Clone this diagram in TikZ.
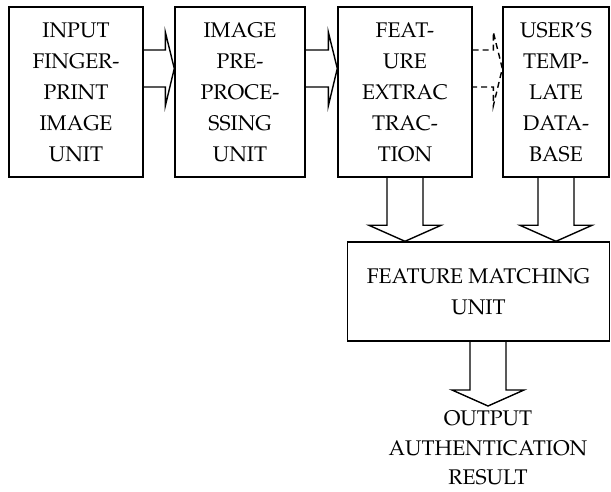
\documentclass[tikz,border=0pt]{standalone}
\usepackage[T1]{fontenc}
\usepackage{mathpazo}
\usetikzlibrary{calc}

\tikzset{
  unit/.style={draw, line width=1.4pt, inner sep=0pt, align=center,
    minimum height=170pt, font=\fontsize{21.2}{31}\selectfont},
  hollow/.style={draw, line width=1.4pt, line join=miter},
  plain/.style={inner sep=0pt, align=center, font=\fontsize{21.2}{29.5}\selectfont}
}

% hollow arrow to the right, from box #2 to box #3
\newcommand\rarrow[3][]{%
  \draw[hollow,#1] ([yshift=42pt]#2.east) -- ([xshift=-9pt,yshift=42pt]#3.west)
    -- ([xshift=-9pt,yshift=60pt]#3.west) -- ([yshift=23.5pt]#3.west)
    -- ([xshift=-9pt,yshift=-14pt]#3.west) -- ([xshift=-9pt,yshift=5pt]#3.west)
    -- ([yshift=5pt]#2.east);}

% hollow arrow downwards, from point #1 to tip #2
\newcommand\darrow[2]{%
  \draw[hollow] ($(#1)+(-18,0)$) -- ($(#2)+(-18,-16)$) -- ($(#2)+(-36,-16)$)
    -- (#2) -- ($(#2)+(36,-16)$) -- ($(#2)+(18,-16)$) -- ($(#1)+(18,0)$);}

\begin{document}
\begin{tikzpicture}[x=1pt, y=-1pt]
  \useasboundingbox (0,0) rectangle (611,492);

  % Boxes
  \node[unit, minimum width=134pt] (input) at (76,92) {INPUT\\FINGER-\\PRINT\\IMAGE\\UNIT};
  \node[unit, minimum width=130pt] (prep) at (240,92) {IMAGE\\PRE-\\PROCE-\\SSING\\UNIT};
  \node[unit, minimum width=134pt] (extr) at (405,92) {FEAT-\\URE\\EXTRAC\\TRAC-\\TION};
  \node[unit, minimum width=106pt] (templ) at (556,92) {USER'S\\TEMP-\\LATE\\DATA-\\BASE};
  \node[unit, minimum width=262pt, minimum height=99pt] (match) at (478.5,291.5)
    {FEATURE MATCHING\\UNIT};
  \node[plain, anchor=north] (out) at (488,411) {OUTPUT\\AUTHENTICATION\\RESULT};

  % Arrows
  \rarrow{input}{prep}
  \rarrow{prep}{extr}
  \rarrow[dashed, dash pattern=on 6pt off 4pt]{extr}{templ}
  \darrow{extr.south}{extr.south |- match.north}
  \darrow{templ.south}{templ.south |- match.north}
  \darrow{out.north |- match.south}{$(out.north)+(0,-5)$}
\end{tikzpicture}
\end{document}
